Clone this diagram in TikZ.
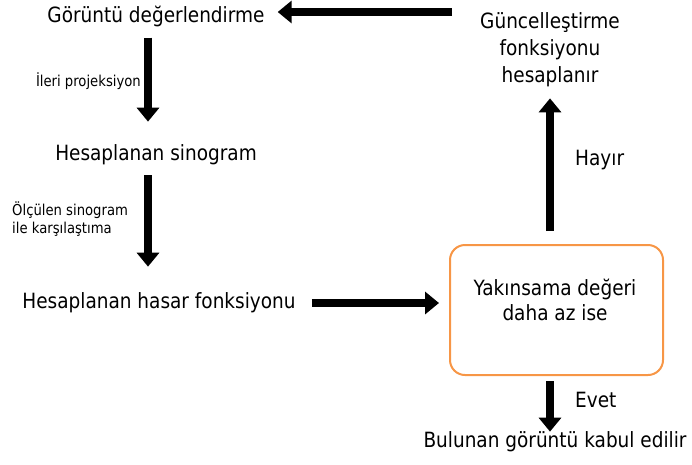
\documentclass[tikz,border=0pt]{standalone}
\usepackage{fontspec}
\setmainfont[FakeStretch=0.88]{DejaVu Sans}
\usetikzlibrary{arrows.meta}
\definecolor{boxorange}{HTML}{F79646}

\begin{document}
\begin{tikzpicture}[x=1pt, y=-1pt,
    bigtext/.style={inner sep=0pt, font=\fontsize{21}{27}\selectfont, align=center},
    notetext/.style={inner sep=0pt, font=\fontsize{15}{18}\selectfont, align=left},
    flow/.style={line width=8pt, -{Triangle[width=22pt,length=14pt]}},
    condbox/.style={draw=boxorange, line width=2pt, rounded corners=15pt,
      minimum width=213pt, minimum height=130pt}]

      \useasboundingbox (0,0) rectangle (692,464);

      % left column
      \node [bigtext] (eval) at (156,16) {Görüntü değerlendirme};
      \node [bigtext] (sino) at (156,155) {Hesaplanan sinogram};
      \node [bigtext] (hasar) at (159,303) {Hesaplanan hasar fonksiyonu};

      % right column
      \node [condbox] (cond) at (556.5,310) {};
      \node [bigtext, font=\fontsize{21}{25}\selectfont] (condtext) at (555,300) {Yakınsama değeri\\daha az ise};
      \node [bigtext] (guncel) at (550,50) {Güncelleştirme\\fonksiyonu\\hesaplanır};
      \node [bigtext] (accept) at (555,442) {Bulunan görüntü kabul edilir};

      % arrow labels
      \node [notetext, anchor=east] (proj) at (141,81) {İleri projeksiyon};
      \node [notetext, anchor=west] (compare) at (12,219) {Ölçülen sinogram\\ile karşılaştıma};
      \node [bigtext, anchor=west] (no) at (575,160) {Hayır};
      \node [bigtext, anchor=west] (yes) at (575,400) {Evet};

      \draw [flow, shorten <=11pt, shorten >=23pt] ([xshift=-8pt]eval.south) -- ([xshift=-8pt]sino.north);
      \draw [flow, shorten <=10pt, shorten >=26pt] ([xshift=-8pt]sino.south) -- ([xshift=-11pt]hasar.north);
      \draw [flow, shorten <=16pt, shorten >=10pt] (hasar.east) -- (cond.west |- hasar.east);
      \draw [flow, shorten <=13pt, shorten >=11pt] ([xshift=-6.5pt]cond.north) -- (guncel.south);
      \draw [flow, shorten <=28pt, shorten >=13pt] ([yshift=4pt]guncel.west |- eval.east) -- ([yshift=4pt]eval.east);
      \draw [flow, shorten <=5pt, shorten >=0pt] ([xshift=-6.5pt]cond.south) -- ([xshift=-5pt]accept.north);

\end{tikzpicture}
\end{document}
